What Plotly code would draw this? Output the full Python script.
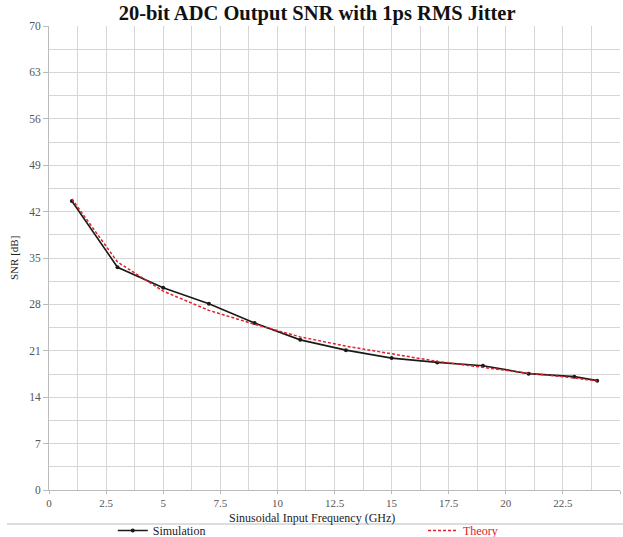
import plotly.graph_objects as go

freq_ghz = [1, 3, 5, 7, 9, 11, 13, 15, 17, 19, 21, 23, 24]
snr_simulation = [43.6, 33.6, 30.5, 28.1, 25.2, 22.65, 21.1, 19.9, 19.25, 18.75, 17.55, 17.1, 16.5]
snr_theory = [43.9, 34.4, 30.0, 27.1, 25.0, 23.1, 21.7, 20.5, 19.4, 18.5, 17.6, 16.9, 16.45]

title_text = "20-bit ADC Output SNR with 1ps RMS Jitter"
x_title = "Sinusoidal Input Frequency (GHz)"
y_title = "SNR [dB]"

SERIF = "Liberation Serif, DejaVu Serif, serif"
GRID = "#d6d6d6"

fig = go.Figure()
fig.add_trace(go.Scatter(
    x=freq_ghz, y=snr_simulation, name="Simulation", mode="lines+markers",
    line=dict(color="#1a1a1a", width=1.6), marker=dict(color="#1a1a1a", size=4),
    legend="legend",
))
fig.add_trace(go.Scatter(
    x=freq_ghz, y=snr_theory, name="<span style='color:#e0202a'>Theory</span>", mode="lines",
    line=dict(color="#e0202a", width=1.5, dash="3px,2px"),
    legend="legend2",
))

legend_common = dict(orientation="h", xref="container", yref="container", y=0.012, yanchor="middle",
                     xanchor="left", font=dict(family=SERIF, size=12, color="#222"),
                     bgcolor="rgba(0,0,0,0)", itemwidth=30)

fig.update_layout(
    width=623, height=537,
    margin=dict(l=49, r=3, t=26, b=47, autoexpand=False),
    paper_bgcolor="white", plot_bgcolor="white",
    font=dict(family=SERIF, size=11, color="#333"),
    title=dict(text="<b>" + title_text + "</b>", x=0.509, xanchor="center", y=0.976, yanchor="middle",
               font=dict(family=SERIF, size=20.5, color="#111")),
    showlegend=True,
    legend=dict(x=0.181, **legend_common),
    legend2=dict(x=0.679, **legend_common),
    shapes=[dict(type="line", xref="paper", yref="paper", x0=-0.0736, x1=1.01, y0=-0.0733, y1=-0.0733,
                 line=dict(color="#bbbbbb", width=1))],
    annotations=[
        dict(text=x_title, xref="paper", yref="paper", x=0.4606, y=-0.0610, xanchor="center",
             yanchor="middle", showarrow=False, font=dict(family=SERIF, size=12, color="#222")),
        dict(text=y_title, xref="paper", yref="paper", x=-0.0613, y=0.5, xanchor="center",
             yanchor="middle", textangle=-90, showarrow=False, font=dict(family=SERIF, size=11, color="#222")),
    ],
)

fig.update_xaxes(
    range=[0, 25], dtick=2.5, tick0=0, showgrid=True, gridcolor=GRID, gridwidth=1,
    minor=dict(dtick=1.25, tick0=0, showgrid=True, gridcolor=GRID, gridwidth=1),
    showline=True, linecolor="#bbbbbb", ticks="outside", ticklen=3, tickcolor="#bbbbbb",
    tickfont=dict(family=SERIF, size=11, color="#555"), zeroline=False, automargin=False,
)
fig.update_yaxes(
    range=[0, 70], dtick=7, tick0=0, showgrid=True, gridcolor=GRID, gridwidth=1,
    minor=dict(dtick=3.5, tick0=0, showgrid=True, gridcolor=GRID, gridwidth=1),
    showline=True, linecolor="#bbbbbb", ticks="outside", ticklen=5, tickcolor="#bbbbbb",
    tickfont=dict(family=SERIF, size=11.5, color="#555"), zeroline=False, automargin=False,
)

fig.write_html("out.html", config={"displayModeBar": False},
               post_script="document.body.style.margin='0';")
